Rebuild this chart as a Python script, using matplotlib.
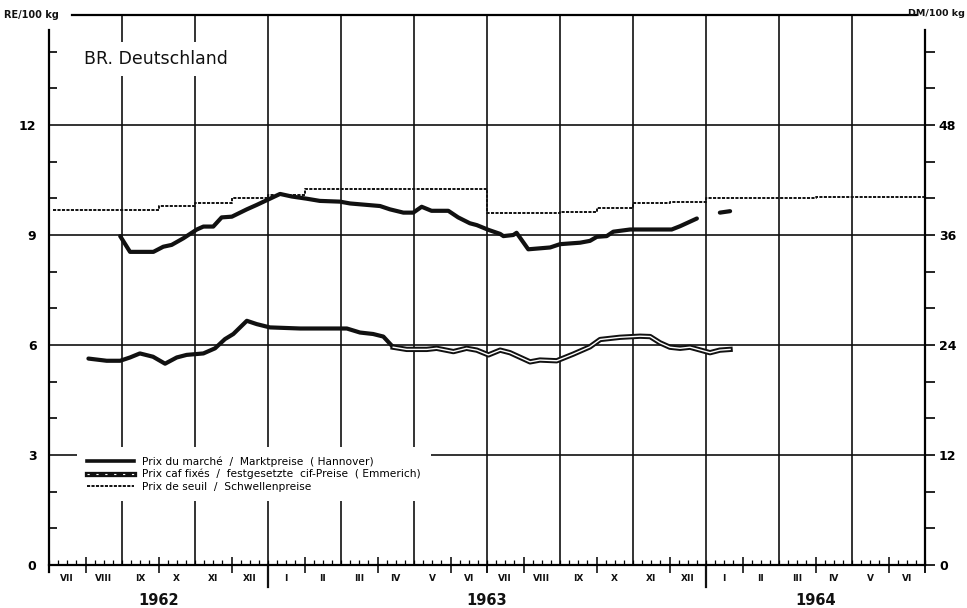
import numpy as np
import matplotlib
matplotlib.use('Agg')
import matplotlib.pyplot as plt
from matplotlib.lines import Line2D
from matplotlib.ticker import FixedLocator, MultipleLocator
import matplotlib.patheffects as pe

# months counted from 1 July 1962 (0 = start of VII 1962, 24 = end of VI 1964)
month_labels = ['VII', 'VIII', 'IX', 'X', 'XI', 'XII', 'I', 'II', 'III', 'IV', 'V', 'VI',
                'VII', 'VIII', 'IX', 'X', 'XI', 'XII', 'I', 'II', 'III', 'IV', 'V', 'VI']
year_labels = ['1962', '1963', '1964']
year_pos = [3, 12, 21]

# market prices Hannover (RE/100 kg)
market_x = [1.95, 2.22, 2.86, 3.13, 3.36, 3.68, 4.05, 4.23, 4.50, 4.73, 5.01, 5.42, 5.69,
            6.33, 6.65, 7.06, 7.42, 7.97, 8.25, 9.07, 9.34, 9.71, 9.98, 10.21, 10.48,
            10.94, 11.21, 11.53, 11.72, 12.04, 12.36, 12.45, 12.72, 12.81, 13.13, 13.73,
            14.00, 14.55, 14.82, 15.01, 15.28, 15.46, 15.92, 17.06, 17.29, 17.75]
market_y = [8.97, 8.54, 8.54, 8.68, 8.73, 8.91, 9.15, 9.23, 9.23, 9.48, 9.50, 9.70, 9.82,
            10.12, 10.05, 9.99, 9.93, 9.91, 9.86, 9.79, 9.70, 9.61, 9.61, 9.77, 9.66,
            9.66, 9.48, 9.32, 9.27, 9.14, 9.03, 8.97, 9.00, 9.06, 8.61, 8.66,
            8.75, 8.79, 8.84, 8.95, 8.97, 9.09, 9.15, 9.15, 9.24, 9.45]
market2_x = [18.38, 18.66]
market2_y = [9.61, 9.65]

# fixed cif prices Emmerich (RE/100 kg)
cif_x = [1.08, 1.58, 1.95, 2.22, 2.49, 2.85, 3.18, 3.50, 3.77, 4.23, 4.55, 4.82, 5.05,
         5.42, 5.69, 6.05, 6.88, 8.16, 8.52, 8.88, 9.16, 9.43,
         9.80, 10.35, 10.62, 11.08, 11.44, 11.72, 12.04, 12.36, 12.63, 13.18, 13.45,
         13.91, 14.36, 14.82, 15.10, 15.64, 16.19, 16.47, 16.74, 17.01, 17.29, 17.56,
         18.11, 18.38, 18.66]
cif_y = [5.63, 5.57, 5.57, 5.66, 5.77, 5.68, 5.49, 5.66, 5.73, 5.77, 5.91, 6.16, 6.30,
         6.66, 6.57, 6.48, 6.45, 6.45, 6.34, 6.30, 6.23, 5.94,
         5.88, 5.88, 5.91, 5.82, 5.91, 5.86, 5.73, 5.86, 5.79, 5.54, 5.59,
         5.57, 5.75, 5.95, 6.15, 6.21, 6.24, 6.23, 6.06, 5.94, 5.91, 5.94,
         5.79, 5.86, 5.88]
cif_split = 21  # from here on the line is drawn double

# threshold prices (step line, RE/100 kg)
thr_x = [0.1, 3, 4, 5, 6, 7, 12, 14, 15, 16, 17, 18, 21, 24]
thr_y = [9.68, 9.79, 9.88, 10.0, 10.09, 10.25, 9.59, 9.64, 9.73, 9.86, 9.91, 10.0, 10.05, 10.05]

legend_labels = ['Prix du marché  /  Marktpreise  ( Hannover)',
                 'Prix caf fixés  /  festgesetzte  cif-Preise  ( Emmerich)',
                 'Prix de seuil  /  Schwellenpreise']

INK = '#111111'

fig = plt.figure(figsize=(9.67, 6.08), dpi=100)
ax = fig.add_axes([49 / 967, 43 / 608, 876 / 967, 550 / 608])
ax.set_xlim(0, 24)
ax.set_ylim(0, 15)

# grid
for m in range(2, 24, 2):
    ax.axvline(m, color=INK, lw=1.2, zorder=1)
for v in [3, 6, 9, 12]:
    ax.axhline(v, color=INK, lw=1.2, zorder=1)

# series
ax.step(thr_x, thr_y, where='post', color=INK, lw=1.4, ls=(0, (1.6, 0.7)), zorder=3)
ax.plot(market_x, market_y, color=INK, lw=3.0, solid_capstyle='round', zorder=4)
ax.plot(market2_x, market2_y, color=INK, lw=3.0, solid_capstyle='round', zorder=4)
ax.plot(cif_x[:cif_split + 1], cif_y[:cif_split + 1], color=INK, lw=3.0,
        solid_capstyle='round', zorder=4)
double = [pe.Stroke(linewidth=3.8, foreground=INK), pe.Normal()]
ax.plot(cif_x[cif_split:], cif_y[cif_split:], color='white', lw=1.0,
        path_effects=double, zorder=4)

# spines
ax.spines['right'].set_visible(False)
ax.spines['left'].set_linewidth(1.6)
ax.spines['left'].set_bounds(-0.2, 14.6)
ax.spines['bottom'].set_linewidth(1.6)
ax.spines['top'].set_linewidth(1.6)
ax.spines['top'].set_bounds(0.63, 23.75)

# left axis ticks
ax.set_yticks([0, 3, 6, 9, 12])
ax.yaxis.set_minor_locator(FixedLocator([1, 2, 4, 5, 7, 8, 10, 11, 13, 14]))
ax.tick_params(axis='y', which='major', length=0, pad=9, labelsize=9)
ax.tick_params(axis='y', which='minor', direction='in', length=6, width=1.2)
for lab in ax.get_yticklabels():
    lab.set_fontweight('bold')

# bottom axis ticks
ax.set_xticks(range(1, 24, 2))
ax.set_xticklabels([])
ax.xaxis.set_minor_locator(MultipleLocator(0.25))
ax.tick_params(axis='x', which='major', direction='inout', length=11, width=1.1)
ax.tick_params(axis='x', which='minor', direction='in', length=3.5, width=0.9)

for i, lab in enumerate(month_labels):
    ax.text(i + 0.5, -0.36, lab, ha='center', va='center', fontsize=6.5,
            fontweight='bold', color=INK, clip_on=False)
for pos, lab in zip(year_pos, year_labels):
    ax.text(pos, -0.97, lab, ha='center', va='center', fontsize=10.5,
            fontweight='bold', color=INK, clip_on=False)
for m in [6, 18]:
    ax.plot([m, m], [-0.6, 0], color=INK, lw=1.6, clip_on=False)
for m in [12, 24]:
    ax.plot([m, m], [-0.2, 0], color=INK, lw=1.4, clip_on=False)

# right axis in DM
ax2 = ax.twinx()
ax2.set_ylim(0, 60)
for s in ['top', 'bottom', 'left']:
    ax2.spines[s].set_visible(False)
ax2.spines['right'].set_linewidth(1.6)
ax2.spines['right'].set_bounds(0, 58.4)
ax2.set_yticks([0, 12, 24, 36, 48])
ax2.yaxis.set_minor_locator(FixedLocator([4, 8, 16, 20, 28, 32, 40, 44, 52, 56]))
ax2.tick_params(axis='y', which='major', direction='out', length=7, width=1.2,
                pad=3, labelsize=9)
ax2.tick_params(axis='y', which='minor', direction='out', length=7, width=1.2)
for lab in ax2.get_yticklabels():
    lab.set_fontweight('bold')

# units and title
fig.text(4 / 967, 1 - 15 / 608, 'RE/100 kg', ha='left', va='center', fontsize=7,
         fontweight='bold', color=INK)
fig.text(965 / 967, 1 - 13 / 608, 'DM/100 kg', ha='right', va='center', fontsize=6.8,
         fontweight='bold', color=INK)
ax.text(0.95, 13.8, 'BR. Deutschland', ha='left', va='center', fontsize=12.5,
        color=INK, zorder=3,
        bbox=dict(facecolor='white', edgecolor='none', pad=6))

# legend (double line = thick black with white dashes on top)
handles = [
    Line2D([], [], color=INK, lw=2.6),
    (Line2D([], [], color=INK, lw=3.8),
     Line2D([], [], color='white', lw=0.8, ls=(0, (2, 6)))),
    Line2D([], [], color=INK, lw=1.4, ls=(0, (1.6, 0.7))),
]
leg = ax.legend(handles, legend_labels, loc='upper left', bbox_to_anchor=(0.026, 0.225),
                fontsize=7.7, frameon=True, framealpha=1, facecolor='white',
                edgecolor='none', handlelength=4.4, handletextpad=0.8,
                labelspacing=0.2, borderpad=0.9, fancybox=False)
leg.set_zorder(6)

fig.savefig('out.png', dpi=100, facecolor='white')
